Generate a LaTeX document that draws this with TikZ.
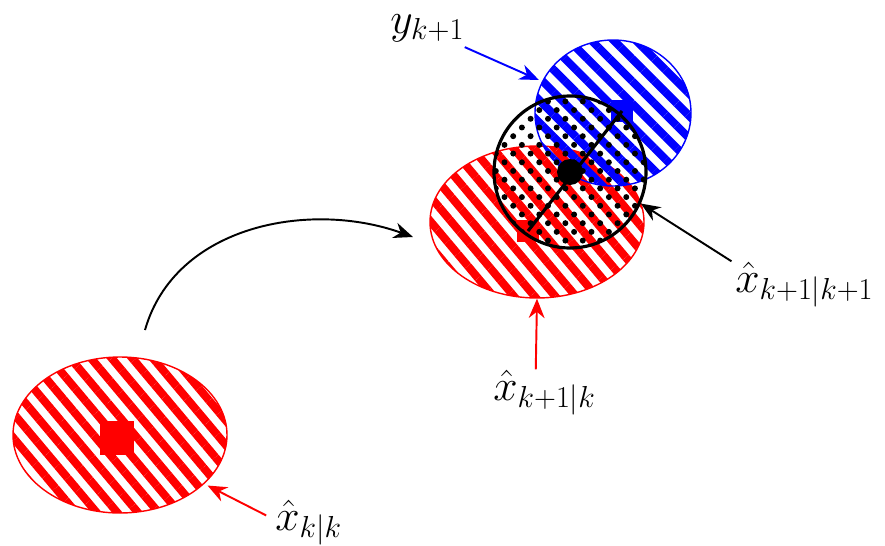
\documentclass[tikz,border=0pt]{standalone}
\usepackage{amsmath,amssymb}
\usetikzlibrary{arrows.meta,positioning,calc,shapes.geometric,patterns.meta}
\definecolor{estred}{HTML}{FF0000}
\definecolor{measblue}{HTML}{0000FF}

\begin{document}
\begin{tikzpicture}[
    redell/.style={
        ellipse, draw=estred, line width=0.8pt, inner sep=0pt,
        pattern={Lines[angle=-50, distance=9pt, line width=4.6pt]},
        pattern color=estred,
    },
    blueell/.style={
        ellipse, draw=measblue, line width=0.8pt, inner sep=0pt,
        pattern={Lines[angle=-45, distance=9pt, line width=4.6pt]},
        pattern color=measblue,
    },
    fuseball/.style={
        circle, draw=black, line width=1.8pt, inner sep=0pt,
        pattern={Dots[angle=45, distance=7pt, radius=1.7pt]},
        pattern color=black,
    },
    mark/.style={rectangle, inner sep=0pt, minimum size=#1},
    lbl/.style={font=\fontsize{24}{28}\selectfont, inner sep=0pt, anchor=base west},
    arr/.style={-{Stealth[length=11pt,width=9pt]}, line width=1.1pt, color=#1},
]

% Frame: same proportions as the reference
\useasboundingbox (0,0) rectangle (17.7,10.9);

% Left: estimate at time k
\node[redell, minimum width=4.28cm, minimum height=3.12cm] (prior) at (2.4,2.2) {};
\node[mark=0.68cm, fill=estred] (priorsq) at (2.34,2.14) {};

% Right: prediction, measurement and update
\node[redell, minimum width=4.28cm, minimum height=3.04cm] (pred) at (10.74,6.46) {};
\node[mark=0.45cm, fill=estred] (predsq) at (10.56,6.28) {};

\node[blueell, minimum width=3.12cm, minimum height=2.92cm] (meas) at (12.26,8.64) {};
\node[mark=0.45cm, fill=measblue] (meassq) at (12.44,8.68) {};

\node[fuseball, minimum size=3.04cm] (post) at (11.4,7.46) {};
\draw[line width=1.8pt] (predsq.center) -- (meassq.center);
\node[circle, fill=black, minimum size=0.52cm, inner sep=0pt] (postdot) at (post.center) {};

% Labels (placed by baseline)
\node[lbl] (lkk) at (5.5,0.3) {$\hat{x}_{k|k}$};
\node[lbl] (lpred) at (9.86,2.9) {$\hat{x}_{k+1|k}$};
\node[lbl] (lmeas) at (7.8,10.24) {$y_{k+1}$};
\node[lbl] (lpost) at (14.7,5.06) {$\hat{x}_{k+1|k+1}$};

% Prediction step
\coordinate (cstart) at (2.9,4.3);
\coordinate (cend) at (8.26,6.16);
\draw[arr=black] (cstart) .. controls (3.5,6.4) and (6.2,6.9) .. (cend);

% Label arrows
\draw[arr=estred] ([shift={(-5pt,4pt)}]lkk.west) -- (prior.-30);
\draw[arr=estred] ([xshift=-5pt]lpred.north) -- (pred.south);
\draw[arr=measblue] ([yshift=-3pt]lmeas.south east) -- (meas.156);
\draw[arr=black] ([xshift=-2pt]lpost.north west) -- (post.-24);

\end{tikzpicture}
\end{document}
